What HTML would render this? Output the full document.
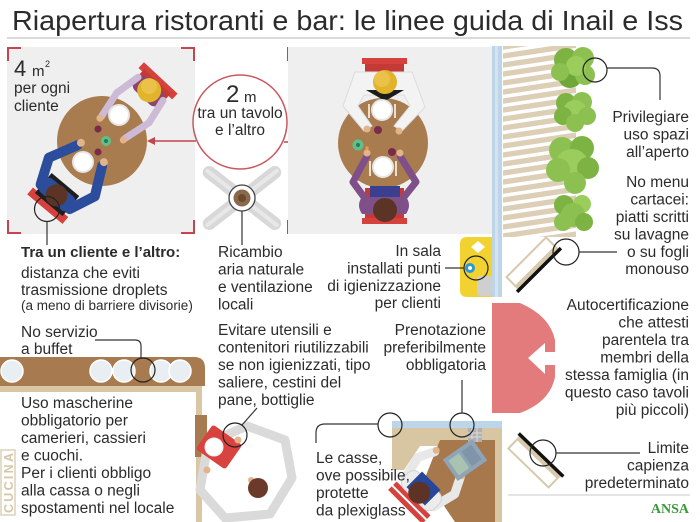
<!DOCTYPE html>
<html><head><meta charset="utf-8"><style>
html,body{margin:0;padding:0;background:#fff;overflow:hidden;}
svg{display:block;}
text{font-family:"Liberation Sans",sans-serif;fill:#2b2b2b;}
</style></head><body>
<svg width="700" height="522" viewBox="0 0 700 522" xmlns="http://www.w3.org/2000/svg">
<defs>
<clipPath id="terr"><rect x="503" y="46" width="73" height="191"/></clipPath>
</defs>
<!-- Title -->
<text x="12" y="30" font-size="28" textLength="671" lengthAdjust="spacingAndGlyphs" fill="#1a1a1a">Riapertura ristoranti e bar: le linee guida di Inail e Iss</text>
<line x1="7" y1="38" x2="690" y2="38" stroke="#b5b5b5" stroke-width="1"/>

<!-- Left panel -->
<rect x="7" y="47" width="188" height="187" fill="#efefef"/>
<g stroke="#c4454d" stroke-width="2" fill="none">
<path d="M8,61 V48 H21"/><path d="M181,48 H194 V61"/><path d="M8,220 V233 H21"/><path d="M181,233 H194 V220"/>
<path d="M288,61 V48 H301"/><path d="M288,220 V233 H301"/>
</g>
<text x="14" y="76" font-size="22" fill="#1a1a1a">4</text>
<text x="32" y="76" font-size="15">m</text>
<text x="45" y="67" font-size="9">2</text>
<text x="14" y="93" font-size="15.5">per ogni</text>
<text x="14" y="111" font-size="15.5">cliente</text>

<!-- Left table -->
<circle cx="102" cy="141" r="45" fill="#a97c50"/>
<g transform="translate(156,83) rotate(43)">
<rect x="-23" y="-7" width="46" height="8" fill="#d5413c"/>
<rect x="-18" y="-2" width="36" height="18" fill="#c33a36"/>
<rect x="-17" y="2" width="34" height="18" rx="7" fill="#8e4470"/>
<polyline points="-17,8 -22,34 -17,62" fill="none" stroke="#cdbad6" stroke-width="7" stroke-linecap="round" stroke-linejoin="round"/>
<polyline points="17,8 22,34 15,62" fill="none" stroke="#cdbad6" stroke-width="7" stroke-linecap="round" stroke-linejoin="round"/>
<circle cx="-17" cy="64" r="3.5" fill="#e3b48a"/><circle cx="15" cy="64" r="3.5" fill="#e3b48a"/>
<circle cx="0" cy="10" r="12" fill="#e2b42c"/>
<circle cx="-3" cy="7" r="8" fill="#eac24a"/>
</g>
<g transform="translate(50,203) rotate(-140)">
<rect x="-23" y="-8" width="46" height="9" fill="#d5413c"/>
<rect x="-18" y="-2" width="36" height="26" fill="#1e1e1e"/>
<rect x="-20" y="2" width="40" height="18" rx="7" fill="#2c4c9c"/>
<polyline points="-19,8 -30,34 -16,62" fill="none" stroke="#2c4c9c" stroke-width="10" stroke-linecap="round" stroke-linejoin="round"/>
<polyline points="19,8 30,34 16,62" fill="none" stroke="#2c4c9c" stroke-width="10" stroke-linecap="round" stroke-linejoin="round"/>
<circle cx="-15" cy="66" r="4" fill="#e3b48a"/><circle cx="15" cy="66" r="4" fill="#e3b48a"/>
<circle cx="0" cy="10" r="11" fill="#5b3426"/>
</g>
<circle cx="119" cy="115" r="10" fill="#fff" stroke="#e6e6e6" stroke-width="2"/>
<circle cx="83" cy="162" r="10" fill="#fff" stroke="#e6e6e6" stroke-width="2"/>
<circle cx="98" cy="129" r="3.5" fill="#7a2a4a"/>
<circle cx="98" cy="152" r="3.5" fill="#7a2a4a"/>
<circle cx="106" cy="141" r="5" fill="#5fc08a"/><circle cx="106" cy="141" r="2" fill="#2a7a5a"/>
<circle cx="47" cy="209" r="12.5" fill="none" stroke="#222" stroke-width="1.2"/>
<line x1="47" y1="222" x2="47" y2="245" stroke="#333" stroke-width="1.2"/>

<!-- 2m circle and arrows -->
<circle cx="240" cy="122" r="47" fill="#fff" stroke="#c9585e" stroke-width="1.5"/>
<text x="226" y="102" font-size="24" fill="#1a1a1a">2</text>
<text x="244" y="102" font-size="15">m</text>
<text x="240" y="118" font-size="15.5" text-anchor="middle">tra un tavolo</text>
<text x="240" y="135" font-size="15.5" text-anchor="middle">e l’altro</text>
<g stroke="#c4454d" stroke-width="1.5"><line x1="153" y1="141" x2="196" y2="141"/><line x1="284" y1="142" x2="330" y2="142"/></g>
<polygon points="147,141 155,137 155,145" fill="#c4454d"/>
<polygon points="336,142 328,138 328,146" fill="#c4454d"/>

<!-- Fan -->
<g transform="translate(242,198)">
<rect x="-48" y="-6.5" width="96" height="13" rx="6.5" fill="#d8d8d8" transform="rotate(38)"/>
<rect x="-48" y="-6.5" width="96" height="13" rx="6.5" fill="#d8d8d8" transform="rotate(-38)"/>
<rect x="-46" y="-2" width="92" height="4" rx="2" fill="#e8e8e8" transform="rotate(38)"/>
<rect x="-46" y="-2" width="92" height="4" rx="2" fill="#e8e8e8" transform="rotate(-38)"/>
<circle r="13" fill="#fff" stroke="#444" stroke-width="1.3"/>
<circle r="8.5" fill="#8b6a4c"/><circle r="4" fill="#6b4a30"/>
</g>
<line x1="242" y1="211" x2="242" y2="245" stroke="#333" stroke-width="1.2"/>

<!-- Right panel -->
<rect x="288" y="47" width="204" height="187" fill="#efefef"/>
<circle cx="383" cy="143" r="45" fill="#a97c50"/>
<rect x="362" y="58" width="45" height="6" fill="#d5413c"/>
<rect x="365" y="64" width="39" height="30" fill="#c33a36"/>
<path d="M355,72 H412 L425,107 L402,131 L394,126 L410,106 L404,95 H364 L358,106 L372,126 L364,131 L343,106 Z" fill="#f3f3f3" stroke="#dcdcdc" stroke-width="1"/>
<polygon points="366,90 404,90 385,101" fill="#1c1c1c"/>
<circle cx="385" cy="82" r="12" fill="#e2b42c"/>
<circle cx="382" cy="79" r="8" fill="#eac24a"/>
<circle cx="367" cy="129" r="3.5" fill="#e3b48a"/><circle cx="399" cy="131" r="3.5" fill="#e3b48a"/>
<rect x="362" y="218" width="45" height="6" fill="#d5413c"/>
<rect x="365" y="188" width="39" height="30" fill="#c33a36"/>
<rect x="370" y="186" width="30" height="16" fill="#3a3f8f"/>
<path d="M362,197 H406 Q412,205 406,214 H362 Q356,205 362,197 Z" fill="#7e4f88"/>
<polyline points="364,197 353,182 367,156" fill="none" stroke="#7e4f88" stroke-width="7" stroke-linecap="round" stroke-linejoin="round"/>
<polyline points="404,197 416,182 400,156" fill="none" stroke="#7e4f88" stroke-width="7" stroke-linecap="round" stroke-linejoin="round"/>
<circle cx="367" cy="153" r="3.5" fill="#e3b48a"/><circle cx="400" cy="153" r="3.5" fill="#e3b48a"/>
<circle cx="385" cy="210" r="12" fill="#5b3426"/>
<circle cx="382" cy="110" r="10" fill="#fff" stroke="#e6e6e6" stroke-width="2"/>
<circle cx="383" cy="167" r="10" fill="#fff" stroke="#e6e6e6" stroke-width="2"/>
<g stroke="#e9e0d0" stroke-width="2"><line x1="369" y1="104" x2="369" y2="118"/><line x1="395" y1="104" x2="395" y2="118"/><line x1="370" y1="161" x2="370" y2="176"/><line x1="396" y1="161" x2="396" y2="176"/></g>
<circle cx="378" cy="130" r="4" fill="#7a2a4a"/>
<circle cx="392" cy="152" r="4" fill="#7a2a4a"/>
<circle cx="358" cy="145" r="5.5" fill="#5fc08a"/><circle cx="358" cy="145" r="2" fill="#2a7a5a"/>
<circle cx="367" cy="148" r="1.6" fill="#e8a040"/>

<!-- Blue strip -->
<rect x="492" y="46" width="10" height="251" fill="#bed5e8"/>
<rect x="495" y="46" width="3" height="251" fill="#d3e3f0"/>

<!-- Terrace -->
<g clip-path="url(#terr)">
<rect x="503" y="46" width="73" height="191" fill="#dccfb6"/>
<g stroke="#fff" stroke-width="3.5">
<line x1="500" y1="52" x2="580" y2="40"/><line x1="500" y1="61" x2="580" y2="49"/><line x1="500" y1="70" x2="580" y2="58"/><line x1="500" y1="79" x2="580" y2="67"/><line x1="500" y1="88" x2="580" y2="76"/><line x1="500" y1="97" x2="580" y2="85"/><line x1="500" y1="106" x2="580" y2="94"/><line x1="500" y1="115" x2="580" y2="103"/><line x1="500" y1="124" x2="580" y2="112"/><line x1="500" y1="133" x2="580" y2="121"/><line x1="500" y1="142" x2="580" y2="130"/><line x1="500" y1="151" x2="580" y2="139"/><line x1="500" y1="160" x2="580" y2="148"/><line x1="500" y1="169" x2="580" y2="157"/><line x1="500" y1="178" x2="580" y2="166"/><line x1="500" y1="187" x2="580" y2="175"/><line x1="500" y1="196" x2="580" y2="184"/><line x1="500" y1="205" x2="580" y2="193"/><line x1="500" y1="214" x2="580" y2="202"/><line x1="500" y1="223" x2="580" y2="211"/><line x1="500" y1="232" x2="580" y2="220"/><line x1="500" y1="241" x2="580" y2="229"/>
</g>
</g>
<!-- Trees -->
<g>
<circle cx="566" cy="60" r="12" fill="#7cb342"/><circle cx="583" cy="58" r="11" fill="#8cc152"/><circle cx="570" cy="76" r="12" fill="#6fa73a"/><circle cx="585" cy="75" r="10" fill="#8cc152"/><circle cx="576" cy="66" r="10" fill="#9acd5c"/><circle cx="560" cy="72" r="9" fill="#8cc152"/>
<circle cx="566" cy="103" r="10" fill="#7cb342"/><circle cx="582" cy="102" r="10" fill="#8cc152"/><circle cx="575" cy="112" r="12" fill="#9acd5c"/><circle cx="563" cy="116" r="9" fill="#7cb342"/><circle cx="587" cy="116" r="9" fill="#8cc152"/><circle cx="575" cy="123" r="9" fill="#8cc152"/>
<circle cx="562" cy="150" r="13" fill="#8cc152"/><circle cx="582" cy="148" r="12" fill="#7cb342"/><circle cx="572" cy="166" r="17" fill="#9acd5c"/><circle cx="558" cy="170" r="12" fill="#8cc152"/><circle cx="588" cy="168" r="11" fill="#7cb342"/><circle cx="575" cy="183" r="11" fill="#8cc152"/>
<circle cx="564" cy="205" r="10" fill="#7cb342"/><circle cx="582" cy="204" r="9" fill="#9acd5c"/><circle cx="573" cy="215" r="12" fill="#8cc152"/><circle cx="563" cy="222" r="9" fill="#8cc152"/><circle cx="584" cy="222" r="9" fill="#7cb342"/>
</g>
<circle cx="595" cy="70" r="12" fill="none" stroke="#222" stroke-width="1.2"/>
<path d="M607,68 H652 Q660,68 660,76 V100" fill="none" stroke="#333" stroke-width="1.2"/>

<!-- Signboard top -->
<g transform="translate(539,270) rotate(-45)">
<rect x="-28" y="-18" width="56" height="18" fill="#fff" stroke="#d7c9ab" stroke-width="2"/>
<rect x="-28" y="-6" width="56" height="6" fill="#d7c9ab"/>
<line x1="-31" y1="0" x2="31" y2="0" stroke="#111" stroke-width="3.5"/>
</g>
<circle cx="566" cy="252" r="13" fill="none" stroke="#222" stroke-width="1.2"/>
<line x1="579" y1="252" x2="617" y2="252" stroke="#333" stroke-width="1.2"/>

<!-- Signboard bottom -->
<g transform="translate(541,455) rotate(44)">
<rect x="-28" y="0" width="56" height="18" fill="#fff" stroke="#d7c9ab" stroke-width="2"/>
<rect x="-28" y="0" width="56" height="6" fill="#d7c9ab"/>
<line x1="-31" y1="0" x2="31" y2="0" stroke="#111" stroke-width="3.5"/>
</g>
<circle cx="543" cy="453" r="13" fill="none" stroke="#222" stroke-width="1.2"/>
<line x1="556" y1="453" x2="640" y2="453" stroke="#333" stroke-width="1.2"/>

<line x1="508" y1="495" x2="690" y2="495" stroke="#c8c8c8" stroke-width="1"/>
<text x="689" y="513" font-size="14" text-anchor="end" font-weight="bold" style="font-family:'Liberation Serif',serif;fill:#3a9a3a">ANSA</text>

<!-- Red door shape -->
<path d="M492,303 H520 Q550,316 555,340 V377 Q550,402 520,413 H492 Z" fill="#e37b7d"/>
<polygon points="528,358 545,343 545,352 556,352 556,365 545,365 545,374" fill="#fff"/>

<!-- Sanitizer -->
<path d="M467,237 H492 V297 H467 Q460,297 460,290 V244 Q460,237 467,237 Z" fill="#f2d230"/>
<polygon points="478,241 485,247 478,253 471,247" fill="#fff"/>
<rect x="477" y="276" width="15" height="20" rx="3" fill="#cfcfcf"/>
<circle cx="470" cy="268" r="5" fill="#2a9ad6"/><circle cx="470" cy="268" r="2" fill="#fff"/>
<circle cx="476" cy="268" r="12" fill="none" stroke="#222" stroke-width="1.2"/>
<line x1="445" y1="268" x2="464" y2="268" stroke="#333" stroke-width="1.2"/>

<!-- Buffet -->
<path d="M0,357 H194 Q205,357 205,368 V386 H0 Z" fill="#a77b4f"/>
<rect x="0" y="386" width="202" height="6" fill="#d9c6a4"/>
<rect x="196" y="386" width="6" height="136" fill="#d9c6a4"/>
<g fill="#e9eef2" stroke="#fff" stroke-width="1.5">
<circle cx="12" cy="371" r="11"/><circle cx="101" cy="371" r="11"/><circle cx="124" cy="371" r="11"/><circle cx="161" cy="371" r="11"/><circle cx="180" cy="371" r="11"/>
</g>
<circle cx="143" cy="370" r="12" fill="none" stroke="#222" stroke-width="1.2"/>
<path d="M95,340 H135 Q141,340 141,346 V358" fill="none" stroke="#333" stroke-width="1.2"/>

<!-- CUCINA -->
<rect x="1" y="450" width="14" height="65" fill="#fff" stroke="#ddd0b8" stroke-width="1.5"/>
<text transform="translate(13,513) rotate(-90)" font-size="12.5" font-weight="bold" textLength="60" style="fill:#d6c6a8">CUCINA</text>

<!-- Kitchen pass & person -->
<rect x="195" y="415" width="12" height="42" fill="#a77b4f"/>
<polygon points="208,443 247,426 285,440 292,478 270,514 225,518 200,490" fill="#fff" stroke="#dadada" stroke-width="9" stroke-linejoin="round"/>
<g transform="translate(219,447) rotate(35)">
<rect x="-18" y="-15" width="36" height="30" rx="3" fill="#d9433f"/>
</g>
<circle cx="214" cy="447" r="9" fill="#fff" stroke="#eee" stroke-width="1"/>
<circle cx="238" cy="440" r="3.5" fill="#e3b48a"/><circle cx="207" cy="470" r="3.5" fill="#e3b48a"/>
<circle cx="251" cy="480" r="3" fill="#e3b48a"/>
<circle cx="258" cy="488" r="10" fill="#6b3a2a"/>
<circle cx="235" cy="435" r="12" fill="none" stroke="#222" stroke-width="1.2"/>
<line x1="242" y1="425" x2="257" y2="408" stroke="#333" stroke-width="1.2"/>

<!-- Cashier -->
<rect x="392" y="428" width="110" height="18" fill="#d8c5a2"/>
<polygon points="392,446 420,446 404,470 392,470" fill="#d8c5a2"/>
<polygon points="440,440 495,440 495,522 455,522 425,478" fill="#a6784b"/>
<rect x="495" y="428" width="7" height="94" fill="#d8c5a2"/>
<rect x="392" y="421" width="110" height="7" fill="#bcd5e8"/>
<rect x="468" y="428" width="14" height="14" fill="#b0b0b0"/>
<g stroke="#ddd" stroke-width="1"><line x1="472" y1="428" x2="472" y2="442"/><line x1="477" y1="428" x2="477" y2="442"/><line x1="468" y1="433" x2="482" y2="433"/><line x1="468" y1="437" x2="482" y2="437"/></g>
<g transform="translate(415,497) rotate(-135)">
<rect x="-24" y="-14" width="48" height="5" fill="#d5413c"/>
<rect x="-24" y="-7" width="48" height="5" fill="#d5413c"/>
<polyline points="-20,6 -26,30 -18,46" fill="none" stroke="#e8e8e8" stroke-width="9" stroke-linecap="round" stroke-linejoin="round"/>
<polyline points="20,6 26,30 18,46" fill="none" stroke="#e8e8e8" stroke-width="9" stroke-linecap="round" stroke-linejoin="round"/>
<rect x="-22" y="-2" width="44" height="22" rx="8" fill="#ececec" stroke="#d4d4d4" stroke-width="1"/>
<rect x="-13" y="1" width="26" height="22" fill="#27479a"/>
<circle cx="-18" cy="48" r="3.5" fill="#e3b48a"/><circle cx="18" cy="48" r="3.5" fill="#e3b48a"/>
<circle cx="0" cy="6" r="11" fill="#5d3325"/>
</g>
<g transform="translate(465,460) rotate(-35)">
<rect x="-18" y="-13" width="36" height="26" fill="#8fa4b6"/>
<rect x="-14" y="-9" width="13" height="18" fill="#a8c4b0"/>
<rect x="2" y="-9" width="12" height="18" fill="#7f95a8"/>
</g>
<circle cx="390" cy="425" r="12" fill="none" stroke="#222" stroke-width="1.2"/>
<circle cx="462" cy="425" r="12" fill="none" stroke="#222" stroke-width="1.2"/>
<path d="M378,424 H325 Q316,424 316,433 V443" fill="none" stroke="#333" stroke-width="1.2"/>
<line x1="462" y1="380" x2="462" y2="413" stroke="#333" stroke-width="1.2"/>

<!-- Right texts -->
<g font-size="15.5" text-anchor="end">
<text x="689" y="122">Privilegiare</text>
<text x="689" y="139.5">uso spazi</text>
<text x="689" y="157">all’aperto</text>
<text x="689" y="187">No menu</text>
<text x="689" y="204.5">cartacei:</text>
<text x="689" y="222">piatti scritti</text>
<text x="689" y="239.5">su lavagne</text>
<text x="689" y="257">o su fogli</text>
<text x="689" y="274">monouso</text>
<text x="689" y="310">Autocertificazione</text>
<text x="689" y="327.5">che attesti</text>
<text x="689" y="345">parentela tra</text>
<text x="689" y="362.5">membri della</text>
<text x="689" y="380">stessa famiglia (in</text>
<text x="689" y="397.5">questo caso tavoli</text>
<text x="689" y="415">più piccoli)</text>
<text x="689" y="453">Limite</text>
<text x="689" y="470.5">capienza</text>
<text x="689" y="488">predeterminato</text>
</g>

<!-- Middle texts -->
<g font-size="15.5">
<text x="218" y="257">Ricambio</text>
<text x="218" y="274.5">aria naturale</text>
<text x="218" y="292">e ventilazione</text>
<text x="218" y="309.5">locali</text>
<text x="218" y="335">Evitare utensili e</text>
<text x="218" y="352.5">contenitori riutilizzabili</text>
<text x="218" y="370">se non igienizzati, tipo</text>
<text x="218" y="387.5">saliere, cestini del</text>
<text x="218" y="405">pane, bottiglie</text>
<text x="441" y="256" text-anchor="end">In sala</text>
<text x="441" y="273.5" text-anchor="end">installati punti</text>
<text x="441" y="291" text-anchor="end">di igienizzazione</text>
<text x="441" y="308" text-anchor="end">per clienti</text>
<text x="486" y="335" text-anchor="end">Prenotazione</text>
<text x="486" y="352.5" text-anchor="end">preferibilmente</text>
<text x="486" y="370" text-anchor="end">obbligatoria</text>
<text x="316" y="463">Le casse,</text>
<text x="316" y="480.5">ove possibile,</text>
<text x="316" y="498">protette</text>
<text x="316" y="515.5">da plexiglass</text>
</g>

<!-- Left texts -->
<text x="21" y="257" font-size="15" font-weight="bold" fill="#1a1a1a">Tra un cliente e l’altro:</text>
<g font-size="15.5">
<text x="21" y="278">distanza che eviti</text>
<text x="21" y="295">trasmissione droplets</text>
<text x="21" y="337">No servizio</text>
<text x="21" y="354">a buffet</text>
<text x="21" y="408">Uso mascherine</text>
<text x="21" y="425.5">obbligatorio per</text>
<text x="21" y="443">camerieri, cassieri</text>
<text x="21" y="460.5">e cuochi.</text>
<text x="21" y="478">Per i clienti obbligo</text>
<text x="21" y="495.5">alla cassa o negli</text>
<text x="21" y="513">spostamenti nel locale</text>
</g>
<text x="21" y="310" font-size="13.5">(a meno di barriere divisorie)</text>
</svg>
</body></html>
